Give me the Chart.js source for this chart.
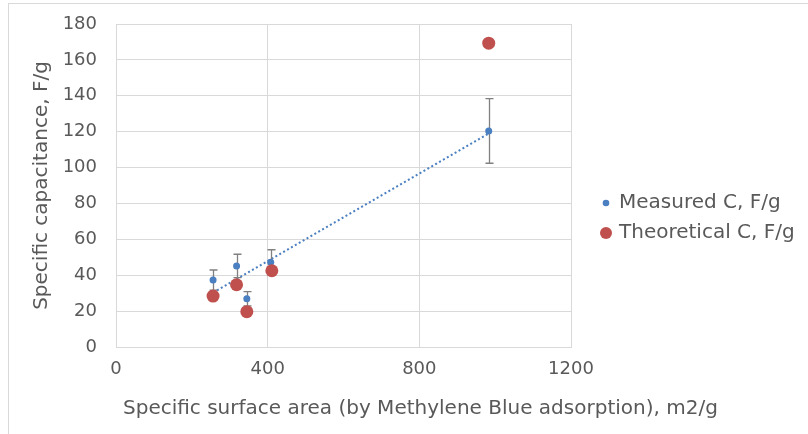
<!DOCTYPE html>
<html>
<head>
    <title>Specific capacitance vs surface area</title>
    <script src="https://cdn.jsdelivr.net/npm/chart.js"></script>
    <style>
        html, body { margin: 0; padding: 0; background: #fff; }
        .wrap { width: 808px; height: 434px; }
    </style>
</head>
<body>
<div class="wrap"><canvas id="chart" width="808" height="434"></canvas></div>

<script>
    // values
    const measuredX = [256, 318, 345, 408, 983];
    const measuredY = [37.3, 45.2, 26.9, 47.2, 120.4];
    const measuredErr = [5.6, 6.5, 4, 7, 18];
    const theoreticalX = [256, 318, 345, 411, 983];
    const theoreticalY = [28.4, 34.7, 19.7, 42.5, 169.3];
    const xTicks = [0, 400, 800, 1200];
    const yTicks = [0, 20, 40, 60, 80, 100, 120, 140, 160, 180];

    const BLUE = '#4a7fc1';
    const RED = '#c0504d';
    const TEXT = '#595959';
    const FONT = '"DejaVu Sans", sans-serif';

    // linear trendline of measured values (least squares, like Excel)
    const n = measuredX.length;
    const mx = measuredX.reduce((a, b) => a + b, 0) / n;
    const my = measuredY.reduce((a, b) => a + b, 0) / n;
    let sxy = 0, sxx = 0;
    for (let i = 0; i < n; i++) {
        sxy += (measuredX[i] - mx) * (measuredY[i] - my);
        sxx += (measuredX[i] - mx) * (measuredX[i] - mx);
    }
    const slope = sxy / sxx;
    const icpt = my - slope * mx;
    const trendX = [Math.min(...measuredX), Math.max(...measuredX)];

    const errorBars = {
        id: 'errorBars',
        beforeDatasetDraw(chart, args) {
            if (chart.data.datasets[args.index].label !== 'Measured C, F/g') return;
            const { ctx, scales: { x, y } } = chart;
            ctx.save();
            ctx.strokeStyle = '#808080';
            ctx.lineWidth = 1.3;
            measuredX.forEach((v, i) => {
                const px = Math.round(x.getPixelForValue(v)) + 0.5;
                const top = y.getPixelForValue(measuredY[i] + measuredErr[i]);
                const bot = y.getPixelForValue(measuredY[i] - measuredErr[i]);
                ctx.beginPath();
                ctx.moveTo(px, top); ctx.lineTo(px, bot);
                ctx.moveTo(px - 4, top); ctx.lineTo(px + 4, top);
                ctx.moveTo(px - 4, bot); ctx.lineTo(px + 4, bot);
                ctx.stroke();
            });
            ctx.restore();
        }
    };

    // frame, x title and legend
    const decor = {
        id: 'decor',
        beforeDraw(chart) {
            const ctx = chart.ctx;
            ctx.save();
            ctx.strokeStyle = '#d9d9d9';
            ctx.lineWidth = 1;
            ctx.strokeRect(8.5, 3.5, 820, 440);
            ctx.restore();
        },
        afterDraw(chart) {
            const ctx = chart.ctx;
            ctx.save();
            ctx.fillStyle = TEXT;
            ctx.font = '20px ' + FONT;
            ctx.textBaseline = 'middle';
            ctx.textAlign = 'left';
            ctx.fillText('Specific surface area (by Methylene Blue adsorption), m2/g', 123, 409);

            ctx.fillStyle = BLUE;
            ctx.beginPath(); ctx.arc(606, 203, 3.3, 0, Math.PI * 2); ctx.fill();
            ctx.fillStyle = RED;
            ctx.beginPath(); ctx.arc(606, 233, 6, 0, Math.PI * 2); ctx.fill();

            ctx.fillStyle = TEXT;
            ctx.fillText('Measured C, F/g', 619, 203);
            ctx.fillText('Theoretical C, F/g', 619, 233);
            ctx.restore();
        }
    };

    const ctx = document.getElementById('chart').getContext('2d');
    new Chart(ctx, {
        type: 'scatter',
        data: {
            datasets: [
                {
                    label: 'Theoretical C, F/g',
                    data: theoreticalX.map((v, i) => ({ x: v, y: theoreticalY[i] })),
                    backgroundColor: RED,
                    borderColor: RED,
                    pointRadius: 6.5,
                    pointBorderWidth: 0,
                    order: 1
                },
                {
                    label: 'Measured C, F/g',
                    data: measuredX.map((v, i) => ({ x: v, y: measuredY[i] })),
                    backgroundColor: BLUE,
                    borderColor: BLUE,
                    pointRadius: 3.5,
                    pointBorderWidth: 0,
                    order: 2
                },
                {
                    label: 'Trend',
                    data: trendX.map(v => ({ x: v, y: icpt + slope * v })),
                    showLine: true,
                    borderColor: BLUE,
                    borderWidth: 2,
                    borderDash: [2, 2.5],
                    pointRadius: 0,
                    order: 3
                }
            ]
        },
        options: {
            responsive: false,
            animation: false,
            devicePixelRatio: 1,
            layout: { padding: { left: 30, top: 24, right: 237, bottom: 13 } },
            plugins: {
                legend: { display: false },
                tooltip: { enabled: false }
            },
            scales: {
                x: {
                    type: 'linear',
                    min: 0,
                    max: 1200,
                    afterBuildTicks: s => { s.ticks = xTicks.map(v => ({ value: v })); },
                    afterFit: s => { s.height = 74; },
                    grid: { color: '#d9d9d9', drawTicks: false },
                    border: { color: '#d9d9d9' },
                    ticks: {
                        color: TEXT,
                        font: { family: FONT, size: 18 },
                        padding: 12,
                        maxRotation: 0,
                        callback: v => String(v)
                    }
                },
                y: {
                    min: 0,
                    max: 180,
                    afterBuildTicks: s => { s.ticks = yTicks.map(v => ({ value: v })); },
                    afterFit: s => { s.width = 86; },
                    grid: { color: '#d9d9d9', drawTicks: true, tickLength: 16, tickColor: 'rgba(0,0,0,0)' },
                    border: { color: '#d9d9d9' },
                    ticks: { color: TEXT, font: { family: FONT, size: 18 }, padding: 3, callback: v => String(v) },
                    title: {
                        display: true,
                        text: 'Specific capacitance, F/g',
                        color: TEXT,
                        font: { family: FONT, size: 20 },
                        padding: 0
                    }
                }
            }
        },
        plugins: [errorBars, decor]
    });
</script>
</body>
</html>
